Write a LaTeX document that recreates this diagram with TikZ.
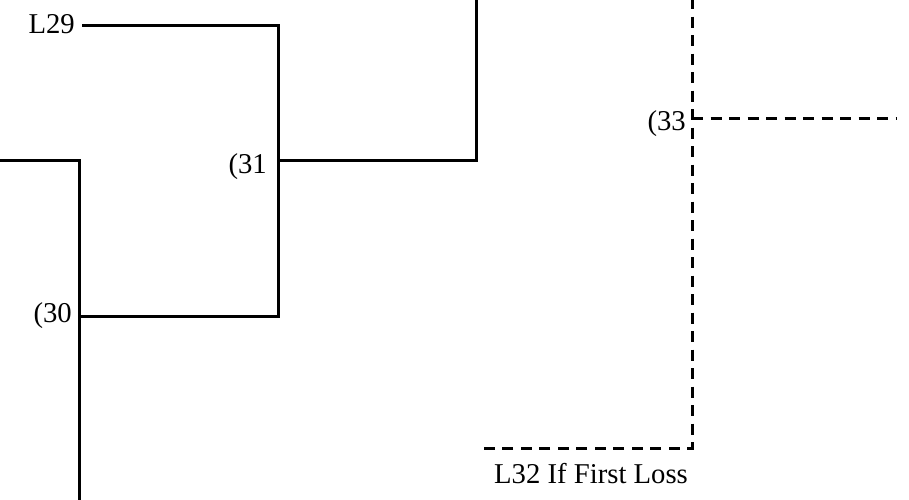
\documentclass[tikz,border=0pt]{standalone}
\usepackage{fontspec}
\setmainfont{Liberation Serif}
\begin{document}
\begin{tikzpicture}[x=1pt,y=-1pt,
  wire/.style={line width=3pt,line cap=rect,line join=miter},
  dwire/.style={line width=3pt,dash pattern=on 11pt off 7.5pt},
  lbl/.style={inner sep=0pt,font=\fontsize{28.7}{30}\selectfont}]
\useasboundingbox (0,0) rectangle (909,499);
% coordinates
\coordinate (s29) at (83,25);
\coordinate (a) at (278,25);
\coordinate (b) at (278,316);
\coordinate (c) at (278,160);
\coordinate (d) at (476,160);
\coordinate (e) at (476,-2);
\coordinate (f) at (-2,160);
\coordinate (g) at (79,160);
\coordinate (h) at (79,501);
\coordinate (i) at (79,316);
\coordinate (p) at (692,-2);
\coordinate (q) at (692,448);
\coordinate (r) at (480,448);
\coordinate (s) at (692,118);
\coordinate (t) at (896,118);
% labels
\node[lbl,anchor=base east] (l29) at (75,33) {L29};
\node[lbl,anchor=base east] (n31) at (267,173) {(31};
\node[lbl,anchor=base east] (n30) at (72,322) {(30};
\node[lbl,anchor=base east] (n33) at (686,130) {(33};
\node[lbl,anchor=base] (l32) at (591,483) {L32 If First Loss};
% solid lines
\draw[wire] (s29) -- (a) -- (b) -- (i);
\draw[wire] (f) -- (g) -- (h);
\draw[wire] (c) -- (d) -- (e);
% dashed lines
\draw[dwire] (p) -- (q) -- (r);
\draw[dwire] (s) -- (t);
\end{tikzpicture}
\end{document}
